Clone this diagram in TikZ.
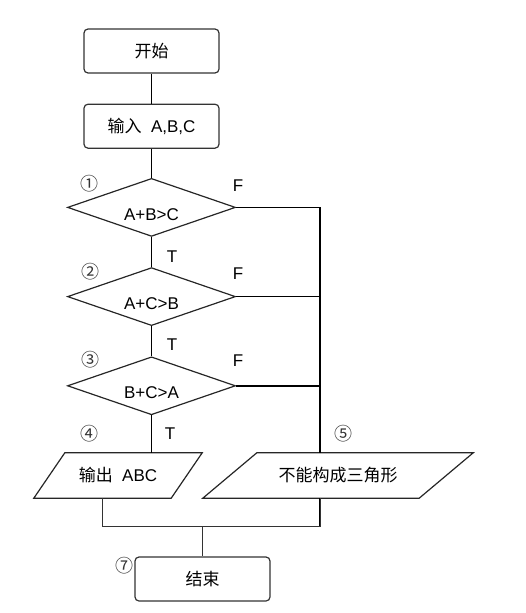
\documentclass[tikz,border=0pt]{standalone}
\usepackage{fontspec}
\setmainfont{Liberation Sans}
\newfontfamily\cjk{Noto Sans CJK SC}
\usetikzlibrary{positioning, shapes.geometric, calc}
\newcommand{\condtext}[1]{\raisebox{-13pt}[0pt][0pt]{#1}\hspace{16pt}}

\begin{document}
\begin{tikzpicture}[
    x=1pt, y=1pt,
    font=\fontsize{17}{19}\selectfont,
    term/.style={draw=black!80, line width=1.2pt, rounded corners=4pt,
                 minimum width=135pt, minimum height=44pt, inner sep=0pt},
    cond/.style={draw=black!85, line width=1.2pt, diamond, aspect=2.9,
                 minimum width=168pt, minimum height=58pt, inner sep=0pt},
    io/.style={minimum height=45pt, inner sep=0pt},
    iobox/.style={draw=black!85, line width=1.2pt},
    flow/.style={line width=1.6pt},
    merge/.style={line width=1pt, black!80},
    numtag/.style={font=\fontsize{18}{18}\selectfont\cjk, black!80},
]
\useasboundingbox (0,0) rectangle (525,-613);

\node[term] (start) at (151.5,-51) {{\cjk 开始}};
\node[term, below=30pt of start] (input) {{\cjk 输入}\ \ A,B,C\hspace{15pt}};
\node[cond, below=29pt of input] (c1) {\condtext{A+B>C}};
\node[cond, below=30pt of c1] (c2) {\condtext{A+C>B}};
\node[cond, below=30pt of c2] (c3) {\condtext{B+C>A}};

\node[io, minimum width=137pt] (p1) at (118,-475.5) {{\cjk 输出}\ \ ABC\hspace{6pt}};
\node[io, minimum width=216pt] (p2) at (338,-475.5) {{\cjk 不能构成三角形}\hspace{22pt}};
\node[term] (stop) at (202.5,-579) {{\cjk 结束}};

% slanted input/output boxes
\draw[iobox] ($(p1.north west)+(15.5,0)$) -- ($(p1.north east)+(15.5,0)$)
    -- ($(p1.south east)+(-15.5,0)$) -- ($(p1.south west)+(-15.5,0)$) -- cycle;
\draw[iobox] ($(p2.north west)+(27,0)$) -- ($(p2.north east)+(27,0)$)
    -- ($(p2.south east)+(-27,0)$) -- ($(p2.south west)+(-27,0)$) -- cycle;

% circled step numbers
\node[numtag] (n1) at (89,-184) {①};
\node[numtag] (n2) at (90,-272) {②};
\node[numtag] (n3) at (90,-360) {③};
\node[numtag] (n4) at (89,-434) {④};
\node[numtag] (n5) at (343,-434) {⑤};
\node[numtag] (n7) at (124,-566) {⑦};

% branch labels
\node (t1) at (172,-257) {T};
\node (t2) at (172,-345) {T};
\node (t3) at (170,-434) {T};
\node (f1) at (238,-186) {F};
\node (f2) at (238,-274) {F};
\node (f3) at (238,-361) {F};

\coordinate (p2in) at (320,-453);
\coordinate (p2out) at (p2.south -| p2in);
\coordinate (p1out) at ($(p1.south)+(-15.5,0)$);
\coordinate (mid) at ($(stop.north)+(0,30)$);

\draw[flow] (start) -- (input);
\draw[flow] (input) -- (c1);
\draw[flow] (c1) -- (c2);
\draw[flow] (c2) -- (c3);
\draw[flow] (c3.south) -- (c3.south |- p1.north);
\draw[flow] (c1.east) -| (p2in);
\draw[flow] (c2.east) -- (c2.east -| p2in);
\draw[flow] (c3.east) -- (c3.east -| p2in);
\draw[flow] (p2out) -- (p2out |- mid);
\draw[merge] (p1out) |- (mid) -| (p2out);
\draw[merge] (mid) -- (stop);

\end{tikzpicture}
\end{document}
